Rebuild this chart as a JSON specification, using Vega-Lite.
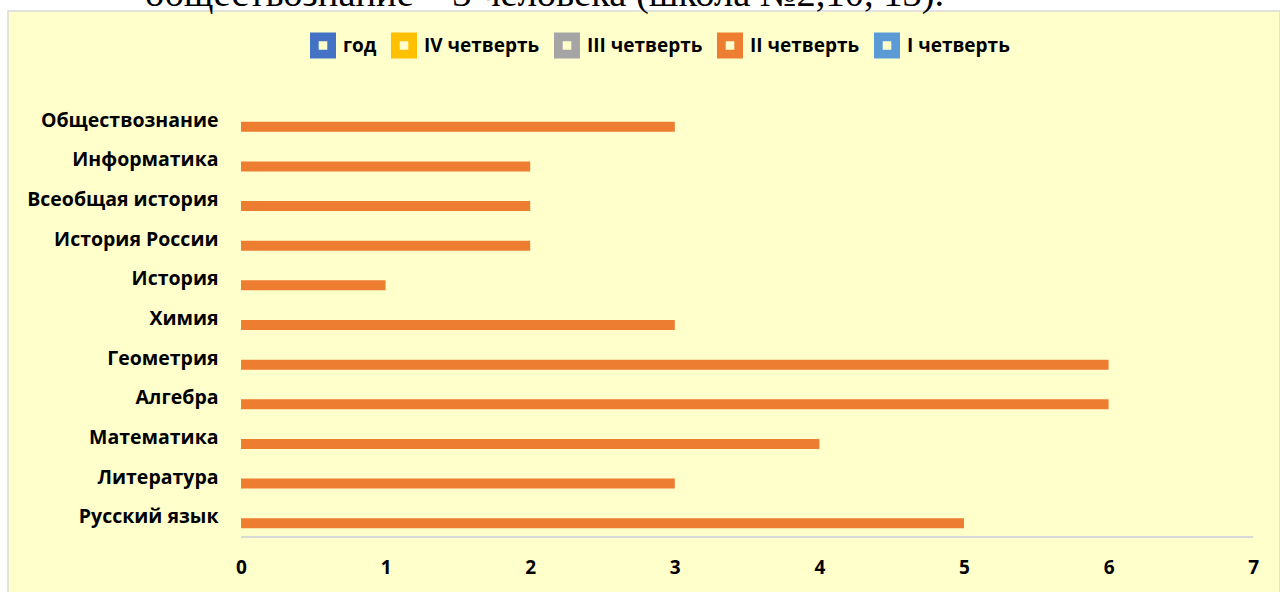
{
  "$schema": "https://vega.github.io/schema/vega-lite/v6.json",
  "width": 1272,
  "height": 590,
  "autosize": {"type": "none"},
  "padding": {"left": 8, "top": 11, "right": 0, "bottom": 0},
  "background": "#ffffff",
  "config": {
    "view": {"fill": "#ffffcc", "stroke": "#d9d9d9", "strokeWidth": 1.5},
    "font": "Open Sans"
  },
  "title": {
    "text": "обществознание – 3 человека (школа №2,10, 13).",
    "font": "Liberation Serif",
    "fontSize": 38.5,
    "fontWeight": "normal",
    "color": "#000000",
    "anchor": "start",
    "frame": "group",
    "baseline": "alphabetic",
    "offset": 3,
    "dx": 137,
    "dy": 36.5
  },
  "data": {
    "values": [
      {"subject": "Обществознание", "series": "II четверть", "value": 3},
      {"subject": "Информатика", "series": "II четверть", "value": 2},
      {"subject": "Всеобщая история", "series": "II четверть", "value": 2},
      {"subject": "История России", "series": "II четверть", "value": 2},
      {"subject": "История", "series": "II четверть", "value": 1},
      {"subject": "Химия", "series": "II четверть", "value": 3},
      {"subject": "Геометрия", "series": "II четверть", "value": 6},
      {"subject": "Алгебра", "series": "II четверть", "value": 6},
      {"subject": "Математика", "series": "II четверть", "value": 4},
      {"subject": "Литература", "series": "II четверть", "value": 3},
      {"subject": "Русский язык", "series": "II четверть", "value": 5}
    ]
  },
  "layer": [
    {
      "mark": {"type": "bar", "height": 10, "yOffset": 6},
      "encoding": {
        "y": {
          "field": "subject",
          "type": "nominal",
          "sort": ["Обществознание", "Информатика", "Всеобщая история", "История России", "История", "Химия", "Геометрия", "Алгебра", "Математика", "Литература", "Русский язык"],
          "scale": {"range": [90, 526], "paddingInner": 0, "paddingOuter": 0},
          "axis": {
            "title": null,
            "orient": "left",
            "offset": -233,
            "domain": false,
            "ticks": false,
            "tickSize": 0,
            "labelPadding": 23,
            "labelLimit": 0,
            "labelFont": "Open Sans",
            "labelFontSize": 19.5,
            "labelFontWeight": "bold",
            "labelColor": "#000000"
          }
        },
        "x": {
          "field": "value",
          "type": "quantitative",
          "scale": {"domain": [-1.6114, 7.1853], "nice": false, "zero": false},
          "axis": {
            "title": null,
            "orient": "bottom",
            "offset": -64,
            "values": [0, 1, 2, 3, 4, 5, 6, 7],
            "format": "d",
            "domain": false,
            "ticks": false,
            "tickSize": 0,
            "grid": false,
            "labelPadding": 21,
            "labelFont": "Open Sans",
            "labelFontSize": 19,
            "labelFontWeight": "bold",
            "labelColor": "#000000"
          }
        },
        "color": {
          "field": "series",
          "type": "nominal",
          "scale": {
            "domain": ["год", "IV четверть", "III четверть", "II четверть", "I четверть"],
            "range": ["#4472c4", "#ffc000", "#a5a5a5", "#ed7d31", "#5b9bd5"]
          },
          "legend": {
            "title": null,
            "orient": "none",
            "direction": "horizontal",
            "legendX": 302,
            "legendY": 21.5,
            "padding": 0,
            "symbolType": "M-1,-1H1V1H-1Z M-0.33,-0.33V0.33H0.33V-0.33Z",
            "symbolSize": 676,
            "symbolOpacity": 1,
            "symbolStrokeWidth": 0,
            "labelFont": "Open Sans",
            "labelFontSize": 19,
            "labelFontWeight": "bold",
            "labelColor": "#000000",
            "labelOffset": 7,
            "columnPadding": 14
          }
        }
      }
    },
    {
      "data": {"values": [{}]},
      "mark": {"type": "rule", "color": "#d9d9d9", "strokeWidth": 2},
      "encoding": {
        "x": {"datum": 0, "type": "quantitative"},
        "x2": {"datum": 7},
        "y": {"datum": "Русский язык", "type": "nominal", "bandPosition": 1}
      }
    }
  ]
}
